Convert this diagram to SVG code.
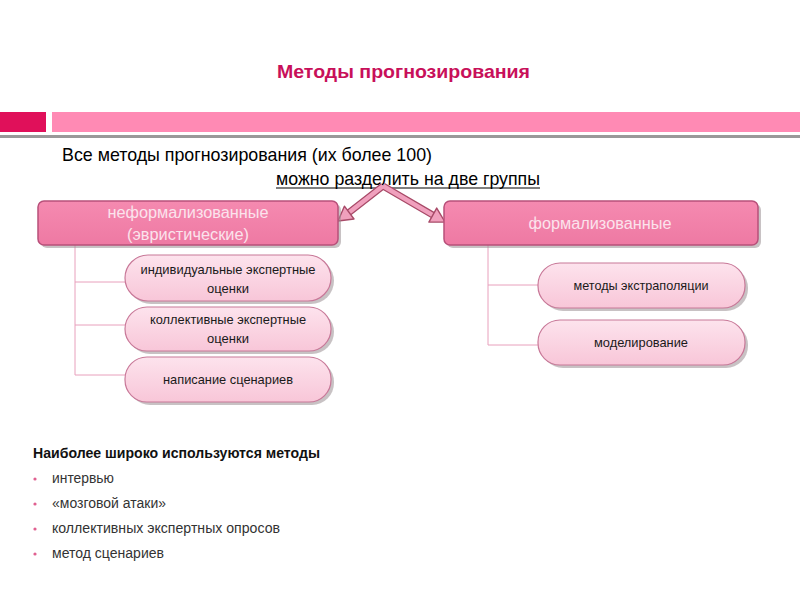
<svg xmlns="http://www.w3.org/2000/svg" width="800" height="600" viewBox="0 0 800 600">
<style>
.t{font-family:"Liberation Sans Narrow","Liberation Sans",Arial,sans-serif;}
.title{font-size:19px;font-weight:bold;fill:#c8105a;}
.big{font-size:19px;fill:#000;}
.hdr{font-size:16px;fill:#fbe3ec;text-anchor:middle;}
.pill{font-size:13px;fill:#1a1a1a;text-anchor:middle;}
.list{font-size:14px;fill:#333;}
.box{fill:url(#gBox);stroke:#b8507a;stroke-width:1.5;}
.pl{fill:url(#gPill);stroke:#c87898;stroke-width:1.2;}
.sh{fill:#9a8f94;opacity:0.55;}
.tree{stroke:#e8a0bc;stroke-width:1;fill:none;}
.bul{fill:#e06090;}
</style>
<defs>
<linearGradient id="gBox" x1="0" y1="0" x2="0" y2="1">
<stop offset="0" stop-color="#f58ab0"/><stop offset="1" stop-color="#ee79a3"/>
</linearGradient>
<linearGradient id="gPill" x1="0" y1="0" x2="0" y2="1">
<stop offset="0" stop-color="#fde3ed"/><stop offset="1" stop-color="#f8c6d8"/>
</linearGradient>
</defs>
<rect width="800" height="600" fill="#fff"/>
<text class="t title" x="277" y="78" textLength="253" lengthAdjust="spacingAndGlyphs">Методы прогнозирования</text>
<rect x="0" y="112" width="46" height="20" fill="#e0105a"/>
<rect x="52" y="112" width="748" height="20" fill="#ff8ab4"/>
<rect x="0" y="135" width="800" height="3" fill="#999"/>
<text class="t big" x="62" y="161" textLength="370" lengthAdjust="spacingAndGlyphs">Все методы прогнозирования (их более 100)</text>
<text class="t big" x="276" y="185" textLength="264" lengthAdjust="spacingAndGlyphs">можно разделить на две группы</text>
<line x1="276" y1="188" x2="540" y2="188" stroke="#000" stroke-width="1.2"/>
<g id="connectors">
<path class="tree" d="M75 245V375M75 282H125M75 325H125M75 375H125"/>
<path class="tree" d="M488 245V345M488 285H538M488 345H538"/>
<g id="arrows">
<path d="M383 186L349 212.6M383 186L432.8 215.1" stroke="#a84a68" stroke-width="7" fill="none" stroke-linejoin="round"/>
<path d="M383 186L349 212.6M383 186L432.8 215.1" stroke="#f0a0bd" stroke-width="4.5" fill="none" stroke-linejoin="round"/>
<path d="M338 221L344.4 206.2L354 219Z" fill="#f0a0bd" stroke="#a84a68" stroke-width="1.4" stroke-linejoin="round"/>
<path d="M445 222L436.7 208.1L428.9 222.1Z" fill="#f0a0bd" stroke="#a84a68" stroke-width="1.4" stroke-linejoin="round"/>
</g>
</g>
<g id="node-informal">
<rect class="sh" x="41" y="204" width="300" height="44" rx="6"/>
<rect class="box" x="38" y="201" width="300" height="44" rx="6"/>
<text class="t hdr" x="188" y="218" textLength="161" lengthAdjust="spacingAndGlyphs">неформализованные</text>
<text class="t hdr" x="188" y="240" textLength="122" lengthAdjust="spacingAndGlyphs">(эвристические)</text>
</g>
<g id="node-formal">
<rect class="sh" x="447" y="204" width="314" height="44" rx="6"/>
<rect class="box" x="444" y="201" width="314" height="44" rx="6"/>
<text class="t hdr" x="600" y="229" textLength="143" lengthAdjust="spacingAndGlyphs">формализованные</text>
</g>
<g id="node-individual">
<rect class="sh" x="128" y="258" width="206" height="46" rx="23"/>
<rect class="pl" x="125" y="255" width="206" height="46" rx="23"/>
<text class="t pill" x="228" y="274" textLength="175" lengthAdjust="spacingAndGlyphs">индивидуальные экспертные</text>
<text class="t pill" x="228" y="293">оценки</text>
</g>
<g id="node-collective">
<rect class="sh" x="128" y="310" width="206" height="44" rx="22"/>
<rect class="pl" x="125" y="307" width="206" height="44" rx="22"/>
<text class="t pill" x="228" y="324" textLength="156" lengthAdjust="spacingAndGlyphs">коллективные экспертные</text>
<text class="t pill" x="228" y="343">оценки</text>
</g>
<g id="node-scenario">
<rect class="sh" x="128" y="360" width="206" height="45" rx="22"/>
<rect class="pl" x="125" y="357" width="206" height="45" rx="22"/>
<text class="t pill" x="228" y="384" textLength="130" lengthAdjust="spacingAndGlyphs">написание сценариев</text>
</g>
<g id="node-extrapolation">
<rect class="sh" x="541" y="266" width="207" height="45" rx="22"/>
<rect class="pl" x="538" y="263" width="207" height="45" rx="22"/>
<text class="t pill" x="641" y="290" textLength="135" lengthAdjust="spacingAndGlyphs">методы экстраполяции</text>
</g>
<g id="node-modeling">
<rect class="sh" x="541" y="323" width="207" height="45" rx="22"/>
<rect class="pl" x="538" y="320" width="207" height="45" rx="22"/>
<text class="t pill" x="641" y="347" textLength="94" lengthAdjust="spacingAndGlyphs">моделирование</text>
</g>
<g id="list">
<text class="t list" x="33" y="458" font-weight="bold" textLength="287" lengthAdjust="spacingAndGlyphs" style="fill:#111">Наиболее широко используются методы</text>
<circle class="bul" cx="35" cy="479" r="1.6"/>
<circle class="bul" cx="35" cy="504" r="1.6"/>
<circle class="bul" cx="35" cy="529" r="1.6"/>
<circle class="bul" cx="35" cy="554" r="1.6"/>
<text class="t list" x="52" y="483" textLength="62" lengthAdjust="spacingAndGlyphs">интервью</text>
<text class="t list" x="52" y="508" textLength="114" lengthAdjust="spacingAndGlyphs">«мозговой атаки»</text>
<text class="t list" x="52" y="533" textLength="228" lengthAdjust="spacingAndGlyphs">коллективных экспертных опросов</text>
<text class="t list" x="52" y="558" textLength="112" lengthAdjust="spacingAndGlyphs">метод сценариев</text>
</g>
</svg>
